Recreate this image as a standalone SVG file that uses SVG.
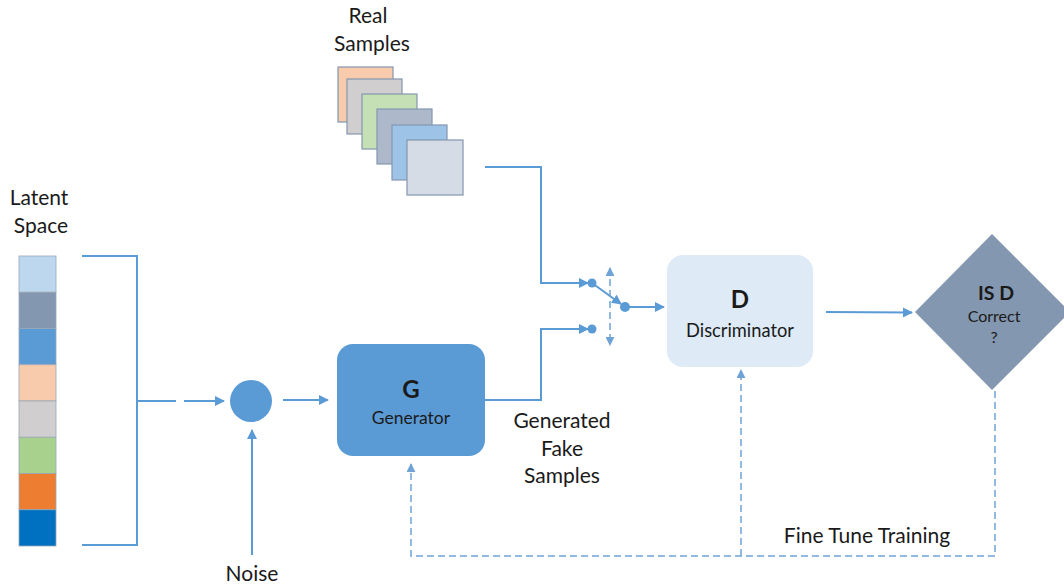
<svg xmlns="http://www.w3.org/2000/svg" width="1064" height="588" viewBox="0 0 1064 588">
<style>
text{font-family:Lato,"Liberation Sans",sans-serif;fill:#1a1a1a;text-anchor:middle}
.lbl{font-size:21px}
.ln{fill:none;stroke:#5B9BD5;stroke-width:2}
.dash{fill:none;stroke:#6FA3D6;stroke-width:1.5;stroke-dasharray:7,4}
.sq{stroke:#8497B0;stroke-width:1.2}
.cell{stroke:#9AA7B8;stroke-width:0.8}
.dot{fill:#5B9BD5}
</style>
<defs>
<marker id="ah" viewBox="0 0 10 10" refX="9" refY="5" markerWidth="5" markerHeight="5" orient="auto-start-reverse" markerUnits="strokeWidth">
<path d="M0,0 L10,5 L0,10 z" fill="#5B9BD5"/>
</marker>
<marker id="ahd" viewBox="0 0 10 10" refX="9" refY="5" markerWidth="6" markerHeight="6" orient="auto-start-reverse" markerUnits="strokeWidth">
<path d="M0,0 L10,5 L0,10 z" fill="#6FA3D6"/>
</marker>
</defs>
<rect width="1064" height="588" fill="#fff"/>

<g id="real-samples">
<rect class="sq" x="338" y="67" width="55" height="55" fill="#F8CBAD"/>
<rect class="sq" x="347" y="79" width="55" height="55" fill="#D0CECE"/>
<rect class="sq" x="362" y="94" width="55" height="55" fill="#C5E0B4"/>
<rect class="sq" x="377" y="109" width="55" height="55" fill="#ADB9CA"/>
<rect class="sq" x="392" y="125" width="55" height="55" fill="#9DC3E6"/>
<rect class="sq" x="407" y="140" width="56" height="55" fill="#D6DCE5"/>
<text class="lbl" x="368" y="23">Real</text>
<text class="lbl" x="372" y="51">Samples</text>
</g>

<g id="latent-space">
<rect class="cell" x="19" y="256" width="37" height="36.25" fill="#BDD7EE"/>
<rect class="cell" x="19" y="292.25" width="37" height="36.25" fill="#8497B0"/>
<rect class="cell" x="19" y="328.5" width="37" height="36.25" fill="#5B9BD5"/>
<rect class="cell" x="19" y="364.75" width="37" height="36.25" fill="#F8CBAD"/>
<rect class="cell" x="19" y="401" width="37" height="36.25" fill="#D0CECE"/>
<rect class="cell" x="19" y="437.25" width="37" height="36.25" fill="#A9D18E"/>
<rect class="cell" x="19" y="473.5" width="37" height="36.25" fill="#ED7D31"/>
<rect class="cell" x="19" y="509.75" width="37" height="36.25" fill="#0070C0"/>
<text class="lbl" x="39" y="205">Latent</text>
<text class="lbl" x="41" y="233">Space</text>
</g>

<g id="noise-node">
<circle cx="251" cy="401" r="21" fill="#5B9BD5"/>
<text class="lbl" x="252" y="581">Noise</text>
</g>

<g id="generator">
<rect x="337" y="344" width="148" height="112" rx="16" fill="#5B9BD5"/>
<text x="411" y="398" style="font-size:24px;font-weight:bold">G</text>
<text x="411" y="424" style="font-size:17.5px">Generator</text>
</g>

<g id="discriminator">
<rect x="667" y="255" width="146" height="112" rx="16" fill="#DEEBF7"/>
<text x="740" y="308" style="font-size:24px;font-weight:bold">D</text>
<text x="740" y="337" style="font-size:18.3px">Discriminator</text>
</g>

<g id="decision">
<polygon points="992,234 1070,312 992,390 915,312" fill="#8497B0"/>
<text x="996" y="300" style="font-size:19.5px;font-weight:bold">IS D</text>
<text x="994" y="322" style="font-size:16px">Correct</text>
<text x="994" y="343" style="font-size:16px">?</text>
</g>

<g id="labels">
<text class="lbl" x="562" y="428">Generated</text>
<text class="lbl" x="562" y="456">Fake</text>
<text class="lbl" x="562" y="483">Samples</text>
<text class="lbl" x="867" y="543">Fine Tune Training</text>
</g>

<g id="connectors">
<polyline class="ln" points="82,256 137,256 137,545 82,545"/>
<line class="ln" x1="137" y1="401" x2="176" y2="401"/>
<line class="ln" x1="184" y1="401" x2="224" y2="401" marker-end="url(#ah)"/>
<line class="ln" x1="283" y1="400" x2="328" y2="400" marker-end="url(#ah)"/>
<line class="ln" x1="252" y1="555" x2="252" y2="430" marker-end="url(#ah)"/>
<polyline class="ln" points="485,167 541,167 541,283 588,283" marker-end="url(#ah)"/>
<polyline class="ln" points="485,400 541,400 541,329 588,329" marker-end="url(#ah)"/>
<circle class="dot" cx="592" cy="283" r="4.5"/>
<circle class="dot" cx="592" cy="329" r="4.5"/>
<line class="ln" x1="592" y1="283" x2="621" y2="304" marker-end="url(#ah)"/>
<circle class="dot" cx="625" cy="307" r="5"/>
<line class="ln" x1="625" y1="307" x2="664" y2="307" marker-end="url(#ah)"/>
<line class="dash" x1="610" y1="268" x2="610" y2="345" marker-start="url(#ahd)" marker-end="url(#ahd)"/>
<line class="ln" x1="826" y1="312" x2="912" y2="312.5" marker-end="url(#ah)"/>
<polyline class="dash" points="995,391 995,556 411,556 411,464" marker-end="url(#ahd)"/>
<line class="dash" x1="741" y1="556" x2="741" y2="370" marker-end="url(#ahd)"/>
</g>
</svg>
